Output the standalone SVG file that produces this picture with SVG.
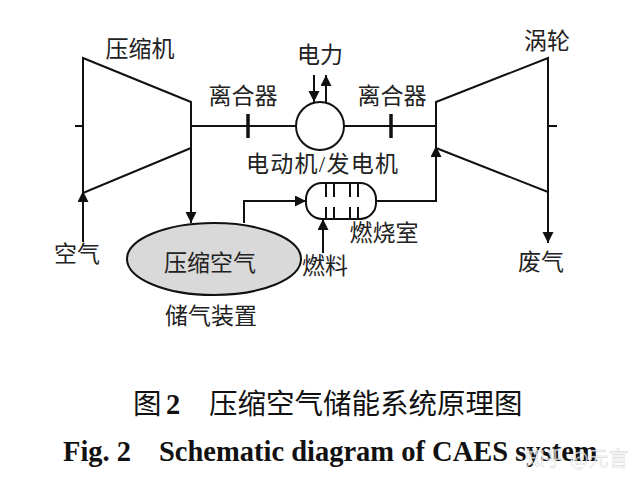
<svg xmlns="http://www.w3.org/2000/svg" width="642" height="486" viewBox="0 0 642 486">
<style>
.l{fill:none;stroke:#111;stroke-width:2}
.t{font-family:"Liberation Serif","Noto Sans CJK SC",serif;font-size:23px;fill:#222;text-anchor:middle}
.c{font-family:"Liberation Serif","Noto Sans CJK SC",serif;font-size:28.5px;fill:#111}
.a{fill:none;stroke:#111;stroke-width:2;marker-end:url(#ah)}
</style>
<defs>
<marker id="ah" markerUnits="userSpaceOnUse" markerWidth="13" markerHeight="13" refX="11" refY="5.5" orient="auto"><path d="M0,0L11,5.5L0,11Z" fill="#111"/></marker>
</defs>
<rect width="642" height="486" fill="#fff"/>
<g id="compressor"><path class="l" d="M83,58L191,102V148L83,193Z"/><path class="l" d="M75,126H83"/><text class="t" x="140" y="57">压缩机</text></g>
<g id="turbine"><path class="l" d="M436,102L548,58V192L436,148Z"/><path class="l" d="M548,126H557"/><text class="t" x="547" y="49">涡轮</text></g>
<g id="motor"><circle cx="320" cy="126" r="24" fill="#fff" stroke="#111" stroke-width="2"/><text class="t" x="322" y="172" textLength="152">电动机/发电机</text></g>
<g id="power-label"><text class="t" x="320" y="63">电力</text></g>
<g id="clutch-left"><path d="M248,114V138" fill="none" stroke="#111" stroke-width="3.5"/><text class="t" x="243" y="104">离合器</text></g>
<g id="clutch-right"><path d="M391,114V138" fill="none" stroke="#111" stroke-width="3.5"/><text class="t" x="392" y="104">离合器</text></g>
<g id="combustor"><rect x="306" y="183" width="70" height="36" rx="16" fill="#fff" stroke="#111" stroke-width="2"/><path class="l" d="M326,183V197M334,183V197M350,183V197M358,183V197M326,207V219M334,207V219M350,207V219M358,207V219"/><text class="t" x="384" y="241">燃烧室</text></g>
<g id="storage"><ellipse cx="214" cy="259" rx="87" ry="36" fill="#d9d9d9" stroke="#111" stroke-width="2"/><text class="t" x="210" y="271">压缩空气</text><text class="t" x="211" y="324">储气装置</text></g>
<g id="air"><text class="t" x="77" y="262">空气</text></g>
<g id="fuel"><text class="t" x="325" y="274">燃料</text></g>
<g id="exhaust"><text class="t" x="541" y="270">废气</text></g>
<g id="connectors">
<path class="l" d="M191,126H296M344,126H436"/>
<path class="a" d="M83,242V191"/>
<path class="a" d="M191,148V223"/>
<path class="a" d="M244,223V201H306"/>
<path class="a" d="M376,201H436V146"/>
<path class="a" d="M323,253V219"/>
<path class="a" d="M314,75V102"/>
<path class="a" d="M326,102V75"/>
<path class="a" d="M548,192V243"/>
</g>
<g id="caption">
<text class="c" x="133" y="414">图</text><text class="c" x="166" y="414" font-weight="bold">2</text>
<text class="c" x="209" y="414">压缩空气储能系统原理图</text>
<text class="c" x="63" y="461" font-weight="bold">Fig. 2</text>
<text class="c" x="159" y="461" font-weight="bold">Schematic diagram of CAES system</text>
<text x="525" y="466" font-family="'Noto Sans CJK SC',sans-serif" font-size="20" fill="#fff" fill-opacity=".75" stroke="#999" stroke-opacity=".5" stroke-width=".4">知乎 @元言</text>
</g>
</svg>
